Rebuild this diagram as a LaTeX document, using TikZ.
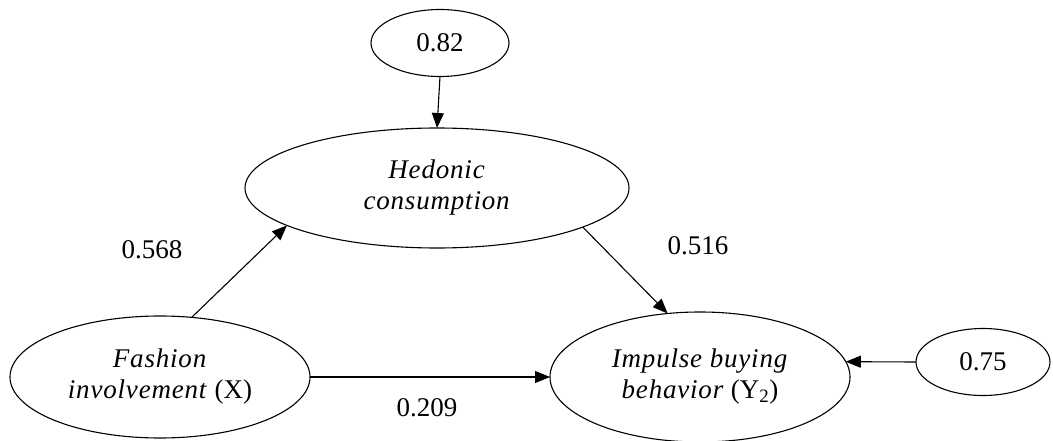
\documentclass[tikz,border=0pt]{standalone}
\usepackage{fontspec}
\setmainfont[ItalicFeatures={LetterSpace=3}]{Liberation Serif}
\usetikzlibrary{shapes.geometric,arrows.meta}

\tikzset{
    latent/.style={ellipse, draw, line width=1.1pt, inner sep=0pt, outer sep=0pt, align=center},
    path/.style={line width=1.1pt, -{Triangle[length=15pt,width=12pt]}},
    coef/.style={inner sep=0pt}
}

\begin{document}
\begin{tikzpicture}[x=1pt,y=-1pt,font=\fontsize{27}{31}\selectfont]

    \useasboundingbox (0,0) rectangle (1053,441);

    % error terms
    \node[latent, minimum width=138, minimum height=67] (err82) at (440,43) {0.82};
    \node[latent, minimum width=134, minimum height=67] (err75) at (983,362) {0.75};

    % constructs
    \node[latent, minimum width=384, minimum height=120] (hed) at (437,188) {\textit{Hedonic}\\ \textit{consumption}};
    \node[latent, minimum width=300, minimum height=122] (fash) at (160,377) {\textit{Fashion}\\ \textit{involvement} (X)};
    \node[latent, minimum width=300, minimum height=130] (imp) at (700,377) {\textit{Impulse buying}\\ \textit{behavior} (Y\textsubscript{2})};

    \draw[path] (err82.south) -- (hed.north);
    \draw[path] (fash.62) -- (hed.194);
    \draw[path] (hed.345) -- (imp.117);
    \draw[path] (fash.east) -- (imp.west);
    \draw[path] (err75.west) -- (imp.6);

    \node[coef] (c568) at (152,250) {0.568};
    \node[coef] (c516) at (698,246) {0.516};
    \node[coef] (c209) at (427,408) {0.209};

\end{tikzpicture}
\end{document}
